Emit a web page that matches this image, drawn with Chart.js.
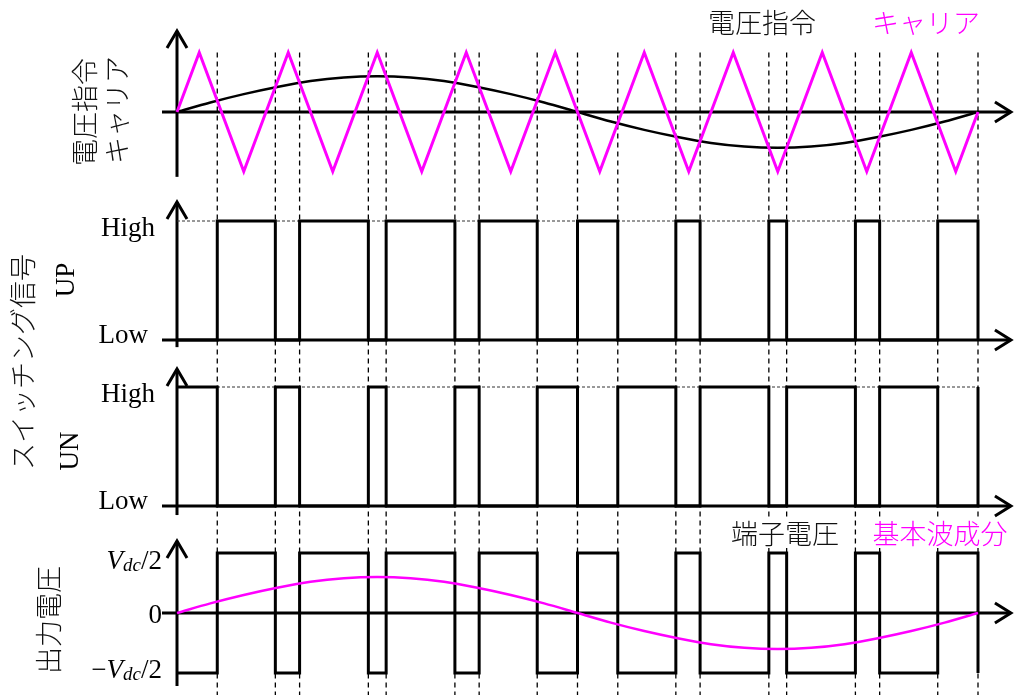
<!DOCTYPE html>
<html lang="ja">
<head>
<meta charset="utf-8">
<title>PWM スイッチング波形</title>
<script src="https://cdn.jsdelivr.net/npm/chart.js@4.4.1/dist/chart.umd.min.js"></script>
<style>
  html, body { margin: 0; padding: 0; background: #fff; }
  #box { position: relative; width: 1015px; height: 695px; }
  canvas { display: block; }
</style>
</head>
<body>
<div id="box"><canvas id="pwm" width="1015" height="695"></canvas></div>
<script>
// One fundamental period, phase in electrical degrees.

// Triangular carrier: vertices (9 carrier periods per fundamental period)
const carrierDeg = [0, 10, 30, 50, 70, 90, 110, 130, 150, 170, 190, 210, 230, 250, 270, 290, 310, 330, 350, 360];
const carrierVal = [0, 1, -1, 1, -1, 1, -1, 1, -1, 1, -1, 1, -1, 1, -1, 1, -1, 1, -1, 0];

// Voltage command (normalised to carrier peak)
const refDeg = [0, 15, 30, 45, 60, 75, 90, 105, 120, 135, 150, 165, 180, 195, 210, 225, 240, 255, 270, 285, 300, 315, 330, 345, 360];
const refVal = [0, 0.16, 0.30, 0.42, 0.52, 0.58, 0.60, 0.58, 0.52, 0.42, 0.30, 0.16, 0, -0.16, -0.30, -0.42, -0.52, -0.58, -0.60, -0.58, -0.52, -0.42, -0.30, -0.16, 0];

// Fundamental component of the terminal voltage (in units of Vdc/2)
const fundVal = [0, 0.16, 0.30, 0.42, 0.52, 0.58, 0.60, 0.58, 0.52, 0.42, 0.30, 0.16, 0, -0.16, -0.30, -0.42, -0.52, -0.58, -0.60, -0.58, -0.52, -0.42, -0.30, -0.16, 0];

// Switching instants (command / carrier intersections) and the state that starts there
const edgeDeg  = [0, 18.1, 44.2, 55.1, 86.0, 94.0, 124.9, 135.8, 161.9, 180.0, 198.1, 224.2, 235.1, 266.0, 274.0, 304.9, 315.8, 341.9, 360];
const upState  = [0, 1, 0, 1, 0, 1, 0, 1, 0, 1, 0, 1, 0, 1, 0, 1, 0, 1, 0];
const unState  = [1, 0, 1, 0, 1, 0, 1, 0, 1, 0, 1, 0, 1, 0, 1, 0, 1, 0, 1];
const outState = [-1, 1, -1, 1, -1, 1, -1, 1, -1, 1, -1, 1, -1, 1, -1, 1, -1, 1, -1];

// Axis labels
const logicTicks = [{ v: 1, text: 'High' }, { v: 0, text: 'Low' }];
const voltTicks = [
  { v: 1,  parts: [['V', 'i'], ['dc', 's'], ['/2', 'r']] },
  { v: 0,  parts: [['0', 'r']] },
  { v: -1, parts: [['\u2212', 'r'], ['V', 'i'], ['dc', 's'], ['/2', 'r']] }
];

const MAGENTA = '#ff00ff';
const JP = '"Noto Sans CJK JP", "Noto Sans", sans-serif';
const JPFONT = '300 27px ' + JP;
const SERIF = '"Liberation Serif", "DejaVu Serif", serif';
const H = 695;

// each trace gets its own vertical band of the canvas
const band = (zeroPx, unitPx) => ({ min: -(H - zeroPx) / unitPx, max: zeroPx / unitPx });

const pts = (xs, ys) => xs.map((x, i) => ({ x, y: ys[i] }));

// axis extents (value units of each band)
const axesSpec = [
  { id: 'yRef', top: 1.36,  bottom: -1.09 },
  { id: 'yUp',  top: 1.16,  bottom: -0.06 },
  { id: 'yUn',  top: 1.151, bottom: -0.076 },
  { id: 'yOut', top: 1.2,   bottom: -1.217 }
];
const xAxisFrom = -6.74, xAxisTo = 374.8;

function drawAxes(chart) {
  const { ctx } = chart;
  const x = chart.scales.x;
  const x0 = x.getPixelForValue(0);
  const xs = x.getPixelForValue(xAxisFrom);
  const xe = x.getPixelForValue(xAxisTo);
  ctx.save();
  ctx.strokeStyle = '#000';
  ctx.lineWidth = 3;
  ctx.lineCap = 'butt';
  ctx.lineJoin = 'miter';
  ctx.setLineDash([]);
  for (const a of axesSpec) {
    const s = chart.scales[a.id];
    const yt = s.getPixelForValue(a.top);
    const yb = s.getPixelForValue(a.bottom);
    const y0 = s.getPixelForValue(0);
    ctx.beginPath(); ctx.moveTo(x0, yb); ctx.lineTo(x0, yt); ctx.stroke();
    ctx.beginPath(); ctx.moveTo(x0 - 10, yt + 17); ctx.lineTo(x0, yt); ctx.lineTo(x0 + 10, yt + 17); ctx.stroke();
    ctx.beginPath(); ctx.moveTo(xs, y0); ctx.lineTo(xe, y0); ctx.stroke();
    ctx.beginPath(); ctx.moveTo(xe - 16, y0 - 10); ctx.lineTo(xe, y0); ctx.lineTo(xe - 16, y0 + 10); ctx.stroke();
  }
  ctx.restore();
}

function drawGuides(chart) {
  const { ctx } = chart;
  const x = chart.scales.x;
  const top = chart.scales.yRef.getPixelForValue(1);
  ctx.save();
  ctx.strokeStyle = '#000';
  ctx.lineWidth = 1.3;
  ctx.setLineDash([5, 4]);
  for (const d of edgeDeg.slice(1)) {
    const px = x.getPixelForValue(d);
    ctx.beginPath(); ctx.moveTo(px, top); ctx.lineTo(px, chart.height); ctx.stroke();
  }
  ctx.restore();
}

function rotated(ctx, text, cx, cy, font, color) {
  ctx.save();
  ctx.translate(cx, cy);
  ctx.rotate(-Math.PI / 2);
  ctx.font = font;
  ctx.fillStyle = color || '#000';
  ctx.textAlign = 'center';
  ctx.textBaseline = 'middle';
  ctx.fillText(text, 0, 0);
  ctx.restore();
}

function caption(ctx, text, cx, cy, color, clear) {
  ctx.save();
  ctx.font = JPFONT;
  ctx.textAlign = 'center';
  ctx.textBaseline = 'middle';
  if (clear) {
    const w = ctx.measureText(text).width;
    ctx.fillStyle = '#fff';
    ctx.fillRect(cx - w / 2 - 2, cy - 14, w + 4, 28);
  }
  ctx.fillStyle = color;
  ctx.fillText(text, cx, cy);
  ctx.restore();
}

function richRight(ctx, parts, right, base) {
  const fonts = { r: '27px ' + SERIF, i: 'italic 27px ' + SERIF, s: 'italic 19px ' + SERIF };
  let w = 0;
  for (const [t, k] of parts) { ctx.font = fonts[k]; w += ctx.measureText(t).width; }
  let x = right - w;
  ctx.textAlign = 'left';
  ctx.textBaseline = 'alphabetic';
  for (const [t, k] of parts) {
    ctx.font = fonts[k];
    ctx.fillText(t, x, base + (k === 's' ? 2 : 0));
    x += ctx.measureText(t).width;
  }
}

function drawLabels(chart) {
  const { ctx } = chart;
  ctx.save();
  ctx.fillStyle = '#000';

  caption(ctx, '電圧指令', 762, 23, '#111', false);
  caption(ctx, 'キャリア', 926, 23, MAGENTA, false);
  caption(ctx, '端子電圧', 785, 534, '#111', true);
  caption(ctx, '基本波成分', 940, 534, MAGENTA, true);

  rotated(ctx, '電圧指令', 85, 112, JPFONT, '#111');
  rotated(ctx, 'キャリア', 117, 110, JPFONT, '#111');
  rotated(ctx, 'スイッチング信号', 23, 362, JPFONT, '#111');
  rotated(ctx, '出力電圧', 49, 620, JPFONT, '#111');
  rotated(ctx, 'UP', 67, 280, '27px ' + SERIF);
  rotated(ctx, 'UN', 71, 451, '27px ' + SERIF);

  ctx.fillStyle = '#000';
  ctx.font = '27px ' + SERIF;
  ctx.textAlign = 'right';
  ctx.textBaseline = 'alphabetic';
  for (const id of ['yUp', 'yUn']) {
    const s = chart.scales[id];
    for (const t of logicTicks) {
      const y = s.getPixelForValue(t.v) + (t.v === 1 ? 15 : 3);
      ctx.fillText(t.text, t.v === 1 ? 155 : 148, y);
    }
  }
  const so = chart.scales.yOut;
  const shift = { '1': 16, '0': 10, '-1': 5 };
  for (const t of voltTicks) {
    richRight(ctx, t.parts, 162, so.getPixelForValue(t.v) + shift[String(t.v)]);
  }
  ctx.restore();
}

const sheet = {
  id: 'sheet',
  beforeDatasetsDraw(chart) { drawGuides(chart); drawAxes(chart); },
  afterDraw(chart) { drawLabels(chart); }
};

const line = (extra) => Object.assign({
  pointRadius: 0, fill: false, clip: false,
  borderCapStyle: 'butt', borderJoinStyle: 'miter', tension: 0
}, extra);

new Chart(document.getElementById('pwm'), {
  type: 'line',
  data: {
    datasets: [
      line({ label: 'キャリア', data: pts(carrierDeg, carrierVal), yAxisID: 'yRef', borderColor: MAGENTA, borderWidth: 3 }),
      line({ label: '電圧指令', data: pts(refDeg, refVal), yAxisID: 'yRef', borderColor: '#000', borderWidth: 2.5, cubicInterpolationMode: 'monotone' }),
      line({ label: 'UP', data: pts(edgeDeg, upState), yAxisID: 'yUp', borderColor: '#000', borderWidth: 3, stepped: 'before' }),
      line({ label: 'UN', data: pts(edgeDeg, unState), yAxisID: 'yUn', borderColor: '#000', borderWidth: 3, stepped: 'before' }),
      line({ label: '基本波成分', data: pts(refDeg, fundVal), yAxisID: 'yOut', borderColor: MAGENTA, borderWidth: 2.5, cubicInterpolationMode: 'monotone' }),
      line({ label: '端子電圧', data: pts(edgeDeg, outState), yAxisID: 'yOut', borderColor: '#000', borderWidth: 3, stepped: 'before' }),
      line({ label: 'UP High', data: [{ x: 0, y: 1 }, { x: 360, y: 1 }], yAxisID: 'yUp', borderColor: '#333', borderWidth: 1, borderDash: [3, 2] }),
      line({ label: 'UN High', data: [{ x: 0, y: 1 }, { x: 360, y: 1 }], yAxisID: 'yUn', borderColor: '#333', borderWidth: 1, borderDash: [3, 2] })
    ]
  },
  options: {
    responsive: false,
    animation: false,
    events: [],
    parsing: true,
    layout: { autoPadding: false, padding: { left: 177, right: 37, top: 0, bottom: 0 } },
    plugins: { legend: { display: false }, tooltip: { enabled: false } },
    scales: {
      x:    { type: 'linear', min: 0, max: 360, display: false },
      yRef: Object.assign({ type: 'linear', display: false }, band(112, 59.5)),
      yUp:  Object.assign({ type: 'linear', display: false }, band(340, 119)),
      yUn:  Object.assign({ type: 'linear', display: false }, band(506, 119)),
      yOut: Object.assign({ type: 'linear', display: false }, band(613, 60))
    }
  },
  plugins: [sheet]
});
</script>
</body>
</html>
